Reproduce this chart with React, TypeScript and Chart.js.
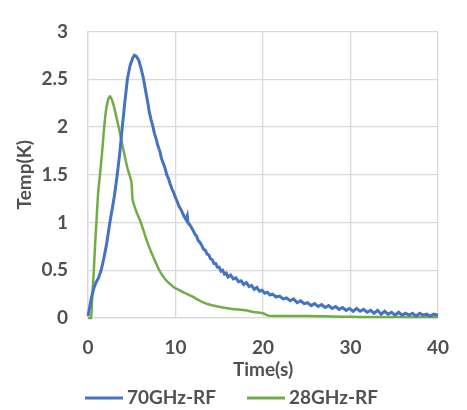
import React, { useEffect, useRef } from "react";
import { Chart, registerables } from "chart.js";

Chart.register(...registerables);

// 70GHz-RF series (time in s, temperature rise in K), noise
const blueTime = [
  0, 0.2, 0.4, 0.7, 0.9, 1.2, 1.5, 1.8, 2.1, 2.5, 2.8, 3.0, 3.3, 3.6, 3.9, 4.2, 4.5, 4.8, 5.1, 5.3,
  5.5, 5.8, 6.1, 6.35, 6.6, 6.9,
  7.0, 7.2, 7.4, 7.6, 7.8, 8.0, 8.2, 8.4, 8.6, 8.8, 9.0, 9.2, 9.4, 9.6, 9.8, 10.0, 10.2, 10.4, 10.6,
  10.8, 11.0, 11.2, 11.35, 11.45, 11.6, 11.8, 12.0, 12.2, 12.4, 12.6, 12.8, 13.0, 13.2, 13.4, 13.6,
  13.8, 14.0, 14.2, 14.4, 14.6, 14.8, 15.0, 15.2, 15.4, 15.6, 15.8, 16.0, 16.3, 16.6, 16.9, 17.2,
  17.5, 17.8, 18.1, 18.4, 18.7, 19.0, 19.3, 19.6, 19.9, 20.2, 20.5, 20.8, 21.1, 21.5, 21.9, 22.3,
  22.7, 23.1, 23.5, 23.9, 24.3, 24.7, 25.1, 25.5, 25.9, 26.3, 26.7, 27.1, 27.5, 27.9, 28.3, 28.7,
  29.1, 29.5, 29.9, 30.3, 30.7, 31.1, 31.5, 31.9, 32.3, 32.7, 33.1, 33.5, 33.9, 34.3, 34.7, 35.1,
  35.5, 35.9, 36.3, 36.7, 37.1, 37.5, 37.9, 38.3, 38.7, 39.1, 39.5, 40,
];
const blueTemp = [
  0.02, 0.12, 0.22, 0.32, 0.37, 0.42, 0.5, 0.62, 0.76, 1.0, 1.16, 1.27, 1.47, 1.7, 1.98, 2.25, 2.5,
  2.64, 2.72, 2.75, 2.74, 2.7, 2.6, 2.5, 2.37, 2.22,
  2.16, 2.08, 2.01, 1.93, 1.87, 1.8, 1.75, 1.67, 1.62, 1.57, 1.5, 1.46, 1.4, 1.35, 1.31, 1.26, 1.22,
  1.17, 1.14, 1.1, 1.06, 1.03, 1.07, 0.99, 0.98, 0.95, 0.92, 0.88, 0.86, 0.81, 0.79, 0.76, 0.72,
  0.71, 0.67, 0.66, 0.62, 0.61, 0.57, 0.57, 0.53, 0.53, 0.49, 0.5, 0.46, 0.47, 0.43, 0.45, 0.41,
  0.42, 0.38, 0.39, 0.35, 0.37, 0.33, 0.34, 0.3, 0.32, 0.28, 0.29, 0.26, 0.27, 0.24, 0.25, 0.22,
  0.23, 0.2, 0.21, 0.18, 0.2, 0.16, 0.18, 0.15, 0.16, 0.13, 0.15, 0.12, 0.14, 0.11, 0.13, 0.1,
  0.12, 0.09, 0.11, 0.08, 0.1, 0.07, 0.1, 0.07, 0.09, 0.06, 0.08, 0.05, 0.08, 0.04, 0.07, 0.04,
  0.06, 0.03, 0.06, 0.03, 0.05, 0.03, 0.05, 0.02, 0.05, 0.03, 0.04, 0.02, 0.04, 0.03,
];

// 28GHz-RF series
const greenTime = [
  0, 0.35, 0.5, 0.67, 0.8, 0.96, 1.15, 1.4, 1.6, 1.85, 2.1, 2.35, 2.52, 2.75, 3.0, 3.5, 4.0, 4.5,
  4.95, 5.1, 5.5, 6.04, 6.5, 6.96, 7.5, 8.15, 8.7, 9.2, 9.85, 10.5, 11.1, 12.0, 12.8, 13.5, 14.3,
  15.4, 16.5, 18.0, 19.1, 20.0, 20.6, 22.0, 25.0, 28.0, 30.0, 32.0, 35.0, 40.0,
];
const greenTemp = [
  0, 0, 0.25, 0.5, 0.75, 1.0, 1.3, 1.53, 1.72, 2.0, 2.2, 2.3, 2.32, 2.28, 2.2, 2.0, 1.78, 1.57,
  1.43, 1.24, 1.12, 1.0, 0.87, 0.75, 0.63, 0.5, 0.42, 0.37, 0.32, 0.29, 0.26, 0.22, 0.18, 0.15,
  0.13, 0.11, 0.095, 0.08, 0.06, 0.05, 0.025, 0.02, 0.02, 0.015, 0.012, 0.01, 0.01, 0.01,
];

const seriesNames = ["70GHz-RF", "28GHz-RF"];
const seriesColors = ["#4472C4", "#70AD47"];
const xTitle = "Time(s)";
const yTitle = "Temp(K)";

const FONT = "Lato, 'DejaVu Sans', sans-serif";
const TEXT = "#505050";
const GRID = "#d9d9d9";

const legendPlugin = {
  id: "bottomLegend",
  afterDraw(chart: any) {
    const ctx = chart.ctx;
    ctx.save();
    ctx.font = `bold 19px ${FONT}`;
    ctx.textBaseline = "middle";
    ctx.textAlign = "left";
    const y = 398;
    let x = 85;
    chart.data.datasets.forEach((ds: any) => {
      ctx.strokeStyle = ds.borderColor;
      ctx.lineWidth = 3;
      ctx.beginPath();
      ctx.moveTo(x, y);
      ctx.lineTo(x + 38, y);
      ctx.stroke();
      x += 42;
      ctx.fillStyle = TEXT;
      ctx.fillText(ds.label, x, y);
      x += ctx.measureText(ds.label).width + 31;
    });
    ctx.restore();
  },
};

export default function App() {
  const ref = useRef<HTMLCanvasElement | null>(null);
  useEffect(() => {
    document.body.style.margin = "0";
    if (!ref.current) return;
    const mk = (xs: number[], ys: number[]) => xs.map((x, i) => ({ x, y: ys[i] }));
    const tickFont = { family: FONT, size: 19, weight: "bold" as const };
    const chart = new Chart(ref.current, {
      type: "line",
      data: {
        datasets: [
          {
            label: seriesNames[0],
            data: mk(blueTime, blueTemp),
            borderColor: seriesColors[0],
            backgroundColor: seriesColors[0],
            borderWidth: 3,
            pointRadius: 0,
            tension: 0,
            clip: 4,
          },
          {
            label: seriesNames[1],
            data: mk(greenTime, greenTemp),
            borderColor: seriesColors[1],
            backgroundColor: seriesColors[1],
            borderWidth: 2.5,
            pointRadius: 0,
            tension: 0.15,
            clip: 4,
          },
        ],
      },
      options: {
        animation: false,
        responsive: false,
        devicePixelRatio: 1,
        layout: { padding: { top: 19, right: 19, bottom: 29, left: 0 } },
        plugins: { legend: { display: false }, tooltip: { enabled: false } },
        scales: {
          x: {
            type: "linear",
            min: 0,
            max: 40,
            ticks: { stepSize: 10, font: tickFont, color: TEXT, padding: 18 },
            grid: { color: GRID, drawTicks: false, lineWidth: 1.3 },
            border: { color: GRID, width: 1.3 },
            title: { display: true, text: xTitle, font: tickFont, color: TEXT, padding: 0 },
            afterFit: (s: any) => { s.height = 63; },
          },
          y: {
            min: 0,
            max: 3,
            ticks: {
              stepSize: 0.5,
              font: tickFont,
              color: TEXT,
              padding: 20,
              callback: (v: any) => String(v),
            },
            grid: { color: GRID, drawTicks: false, lineWidth: 1.3 },
            border: { color: GRID, width: 1.3 },
            title: { display: true, text: yTitle, font: tickFont, color: TEXT, padding: { top: 13, bottom: 0 } },
            afterFit: (s: any) => { s.width = 88; },
          },
        },
      },
      plugins: [legendPlugin],
    });
    return () => chart.destroy();
  }, []);
  return (
    <canvas ref={ref} width={467} height={410} style={{ display: "block", width: 467, height: 410 }} />
  );
}
